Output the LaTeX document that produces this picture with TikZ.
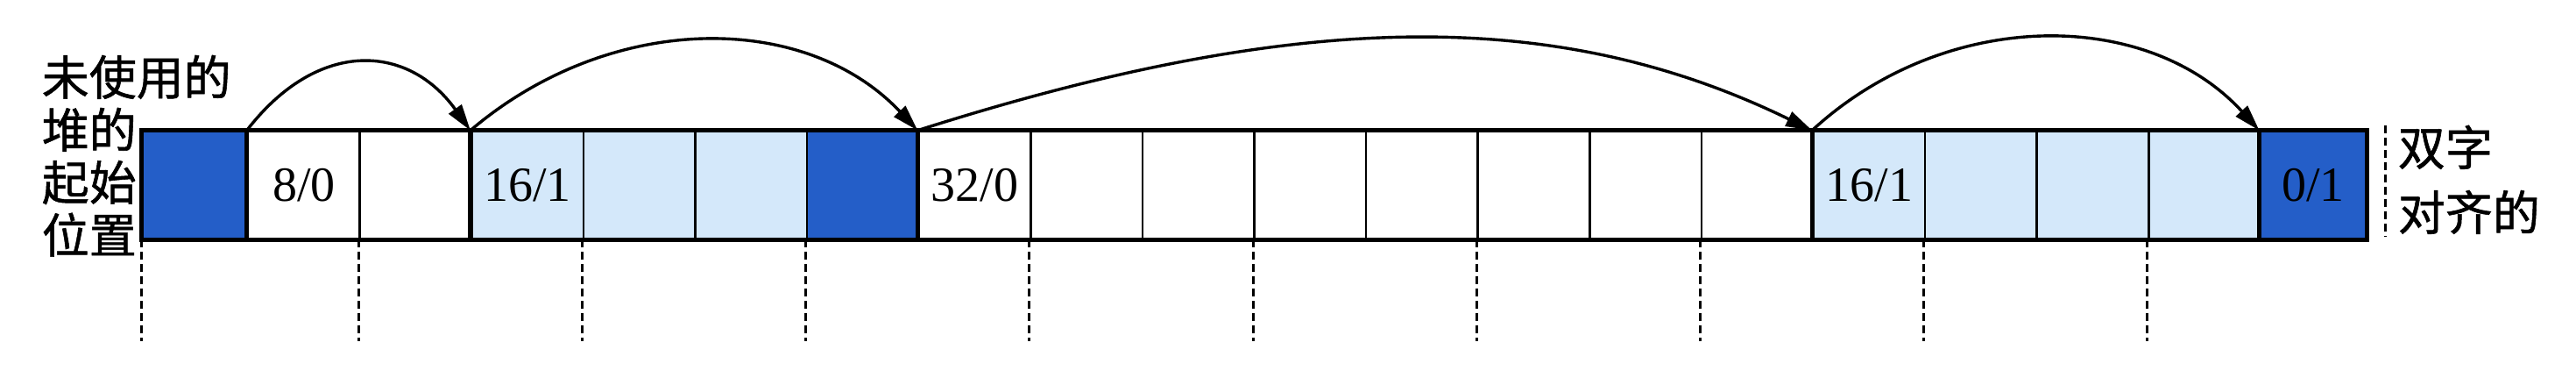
\documentclass[tikz,border=0pt]{standalone}
\usepackage{fontspec}
\setmainfont{Liberation Serif}
\newfontfamily\cjk[FakeBold=1]{Noto Sans CJK SC}
\usetikzlibrary{arrows.meta}
\definecolor{padblue}{RGB}{36,94,200}
\definecolor{allocblue}{RGB}{212,232,250}

\begin{document}
\begin{tikzpicture}[
  word/.style={draw,rectangle,line width=0.65pt,minimum width=31.9pt,minimum height=30.5pt,inner sep=0pt,font=\fontsize{14}{14}\selectfont},
  endword/.style={word,minimum width=30pt},
  padword/.style={fill=padblue},
  allocword/.style={fill=allocblue},
  border/.style={line width=1.3pt},
  nextptr/.style={-{Triangle[length=7.5pt,width=4.4pt]},line width=0.85pt},
  guide/.style={line width=0.75pt,dash pattern=on 2.2pt off 1.3pt},
  note/.style={inner sep=0pt,align=left,font=\cjk\fontsize{13.5}{15}\selectfont}
]
\useasboundingbox (0pt,0pt) rectangle (735pt,-107.5pt);

% heap words
\node (W0) at (55.75pt,-52.75pt)[endword,padword] {};
\node (W1) at (86.7pt,-52.75pt)[word] {8/0};
\node (W2) at (118.6pt,-52.75pt)[word] {};
\node (W3) at (150.5pt,-52.75pt)[word,allocword] {16/1};
\node (W4) at (182.4pt,-52.75pt)[word,allocword] {};
\node (W5) at (214.3pt,-52.75pt)[word,allocword] {};
\node (W6) at (246.2pt,-52.75pt)[word,padword] {};
\node (W7) at (278.1pt,-52.75pt)[word] {32/0};
\node (W8) at (310.0pt,-52.75pt)[word] {};
\node (W9) at (341.9pt,-52.75pt)[word] {};
\node (W10) at (373.8pt,-52.75pt)[word] {};
\node (W11) at (405.7pt,-52.75pt)[word] {};
\node (W12) at (437.6pt,-52.75pt)[word] {};
\node (W13) at (469.5pt,-52.75pt)[word] {};
\node (W14) at (501.4pt,-52.75pt)[word] {};
\node (W15) at (533.3pt,-52.75pt)[word,allocword] {16/1};
\node (W16) at (565.2pt,-52.75pt)[word,allocword] {};
\node (W17) at (597.1pt,-52.75pt)[word,allocword] {};
\node (W18) at (629.0pt,-52.75pt)[word,allocword] {};
\node (W19) at (659.95pt,-52.75pt)[endword,padword] {0/1};

% block borders
\draw [border] (W0.north west) rectangle (W19.south east);
\draw [border] (W1.north west) -- (W1.south west);
\draw [border] (W3.north west) -- (W3.south west);
\draw [border] (W7.north west) -- (W7.south west);
\draw [border] (W15.north west) -- (W15.south west);
\draw [border] (W19.north west) -- (W19.south west);

% next block
\draw [nextptr] (W1.north west) .. controls +(20pt,26pt) and +(-18pt,25pt) .. (W3.north west);
\draw [nextptr] (W3.north west) .. controls +(40pt,34pt) and +(-32pt,34pt) .. (W7.north west);
\draw [nextptr] (W7.north west) .. controls +(110pt,35pt) and +(-72pt,35pt) .. (W15.north west);
\draw [nextptr] (W15.north west) .. controls +(38pt,35pt) and +(-32pt,35pt) .. (W19.north west);

% double word marks
\draw [guide] (W0.south west) -- ++(0,-29pt);
\draw [guide] (W2.south west) -- ++(0,-29pt);
\draw [guide] (W4.south west) -- ++(0,-29pt);
\draw [guide] (W6.south west) -- ++(0,-29pt);
\draw [guide] (W8.south west) -- ++(0,-29pt);
\draw [guide] (W10.south west) -- ++(0,-29pt);
\draw [guide] (W12.south west) -- ++(0,-29pt);
\draw [guide] (W14.south west) -- ++(0,-29pt);
\draw [guide] (W16.south west) -- ++(0,-29pt);
\draw [guide] (W18.south west) -- ++(0,-29pt);
\coordinate (R1) at (680.5pt,-35.75pt);
\coordinate (R2) at (680.5pt,-67.5pt);
\draw [guide] (R1) -- (R2);

\node (start) at (11.75pt,-15.5pt)[note,anchor=north west] {未使用的\\堆的\\起始\\位置};
\node (align) at (684pt,-35.5pt)[note,anchor=north west,font=\cjk\fontsize{13.5}{18.5}\selectfont] {双字\\对齐的};
\end{tikzpicture}
\end{document}
